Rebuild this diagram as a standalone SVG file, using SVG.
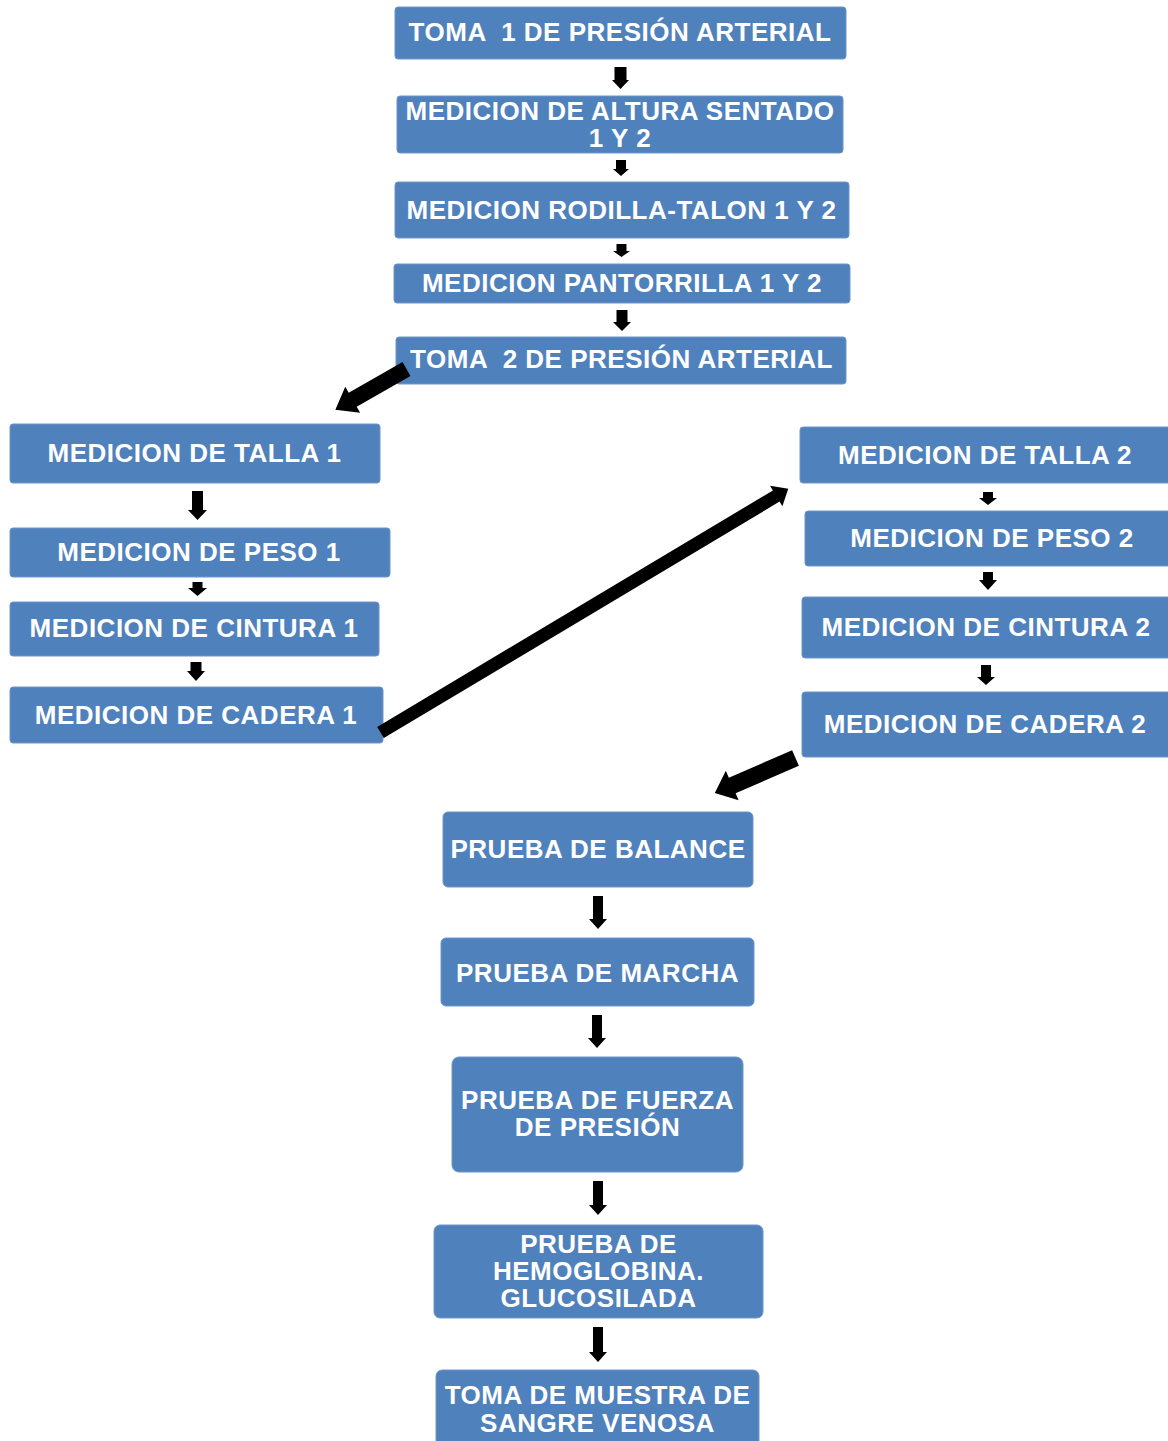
<svg xmlns="http://www.w3.org/2000/svg" width="1168" height="1441" viewBox="0 0 1168 1441">
<style>
.box{fill:#4F81BD;stroke:#7096C8;stroke-width:1}
.t{font-family:"Liberation Sans",Arial,sans-serif;font-weight:bold;font-size:26px;letter-spacing:0.5px;fill:#FFFFFF;text-anchor:middle;white-space:pre}
.ar{fill:#000000}
</style>
<rect width="1168" height="1441" fill="#FFFFFF"/>
<g id="n1"><rect class="box" x="395" y="7" width="451" height="52" rx="3"/><text class="t" x="620" y="41" xml:space="preserve">TOMA  1 DE PRESIÓN ARTERIAL</text></g>
<g id="n2"><rect class="box" x="397" y="96" width="446" height="57" rx="3"/><text class="t" x="620" y="120">MEDICION DE ALTURA SENTADO</text><text class="t" x="620" y="147">1 Y 2</text></g>
<g id="n3"><rect class="box" x="395" y="182" width="454" height="56" rx="3"/><text class="t" x="621.5" y="219">MEDICION RODILLA-TALON 1 Y 2</text></g>
<g id="n4"><rect class="box" x="394" y="264" width="456" height="39" rx="3"/><text class="t" x="622" y="292">MEDICION PANTORRILLA 1 Y 2</text></g>
<g id="n5"><rect class="box" x="396" y="337" width="450" height="47" rx="3"/><text class="t" x="621.5" y="368" xml:space="preserve">TOMA  2 DE PRESIÓN ARTERIAL</text></g>
<g id="n6"><rect class="box" x="10" y="424" width="370" height="59" rx="3"/><text class="t" x="194.5" y="462">MEDICION DE TALLA 1</text></g>
<g id="n7"><rect class="box" x="10" y="528" width="380" height="49" rx="3"/><text class="t" x="199" y="561">MEDICION DE PESO 1</text></g>
<g id="n8"><rect class="box" x="10" y="602" width="369" height="54" rx="3"/><text class="t" x="194" y="637">MEDICION DE CINTURA 1</text></g>
<g id="n9"><rect class="box" x="10" y="687" width="373" height="56" rx="3"/><text class="t" x="196" y="724">MEDICION DE CADERA 1</text></g>
<g id="n10"><rect class="box" x="800" y="427" width="375" height="56" rx="3"/><text class="t" x="985" y="464">MEDICION DE TALLA 2</text></g>
<g id="n11"><rect class="box" x="805" y="511" width="370" height="55" rx="3"/><text class="t" x="992" y="547">MEDICION DE PESO 2</text></g>
<g id="n12"><rect class="box" x="802" y="597" width="373" height="61" rx="3"/><text class="t" x="986" y="636">MEDICION DE CINTURA 2</text></g>
<g id="n13"><rect class="box" x="802" y="692" width="373" height="65" rx="3"/><text class="t" x="985" y="733">MEDICION DE CADERA 2</text></g>
<g id="n14"><rect class="box" x="443" y="812" width="310" height="75" rx="5"/><text class="t" x="598" y="858">PRUEBA DE BALANCE</text></g>
<g id="n15"><rect class="box" x="441" y="938" width="313" height="68" rx="5"/><text class="t" x="597.5" y="982">PRUEBA DE MARCHA</text></g>
<g id="n16"><rect class="box" x="452" y="1057" width="291" height="115" rx="7"/><text class="t" x="597.5" y="1109">PRUEBA DE FUERZA</text><text class="t" x="597.5" y="1136">DE PRESIÓN</text></g>
<g id="n17"><rect class="box" x="434" y="1225" width="329" height="93" rx="6"/><text class="t" x="598.5" y="1253">PRUEBA DE</text><text class="t" x="598.5" y="1280">HEMOGLOBINA.</text><text class="t" x="598.5" y="1307">GLUCOSILADA</text></g>
<g id="n18"><rect class="box" x="436" y="1370" width="323" height="80" rx="6"/><text class="t" x="597.5" y="1404">TOMA DE MUESTRA DE</text><text class="t" x="597.5" y="1432">SANGRE VENOSA</text></g>
<g id="connectors">
<path class="ar" d="M614.5,67 H626.5 V80 H629 L620.5,89 L612,80 H614.5 Z"/>
<path class="ar" d="M616,160 H626 V169 H629 L621,176 L613,169 H616 Z"/>
<path class="ar" d="M616.5,244 H626.5 V251 H630 L621.5,257 L613,251 H616.5 Z"/>
<path class="ar" d="M616.5,310 H627.5 V322 H631 L622,331 L613,322 H616.5 Z"/>
<path class="ar" transform="translate(406.5,369) rotate(150.2)" d="M0,-8 L62,-8 L62,-15 L82,0 L62,15 L62,8 L0,8 Z"/>
<path class="ar" d="M192,491 H203 V510 H207 L197.5,520 L188,510 H192 Z"/>
<path class="ar" d="M192.5,582 H202.5 V588 H207 L197.5,596 L188,588 H192.5 Z"/>
<path class="ar" d="M190.5,662 H201.5 V671 H205 L196,681 L187,671 H190.5 Z"/>
<path class="ar" transform="translate(380.5,732.5) rotate(-30.86)" d="M0,-6.5 L461,-6.5 L461,-12 L475,0 L461,12 L461,6.5 L0,6.5 Z"/>
<path class="ar" d="M983,492 H993 V498 H997 L988,505 L979,498 H983 Z"/>
<path class="ar" d="M983,572 H993 V580 H997 L988,590 L979,580 H983 Z"/>
<path class="ar" d="M981,665 H991 V677 H995 L986,685 L977,677 H981 Z"/>
<path class="ar" transform="translate(795.5,758) rotate(156.5)" d="M0,-8.5 L69,-8.5 L69,-16 L88,0 L69,16 L69,8.5 L0,8.5 Z"/>
<path class="ar" d="M593,896 H603 V919 H607 L598,929 L589,919 H593 Z"/>
<path class="ar" d="M592,1015 H602 V1038 H606 L597,1048 L588,1038 H592 Z"/>
<path class="ar" d="M593,1181 H603 V1205 H607 L598,1215 L589,1205 H593 Z"/>
<path class="ar" d="M593,1327 H603 V1352 H607 L598,1362 L589,1352 H593 Z"/>
</g>
</svg>
